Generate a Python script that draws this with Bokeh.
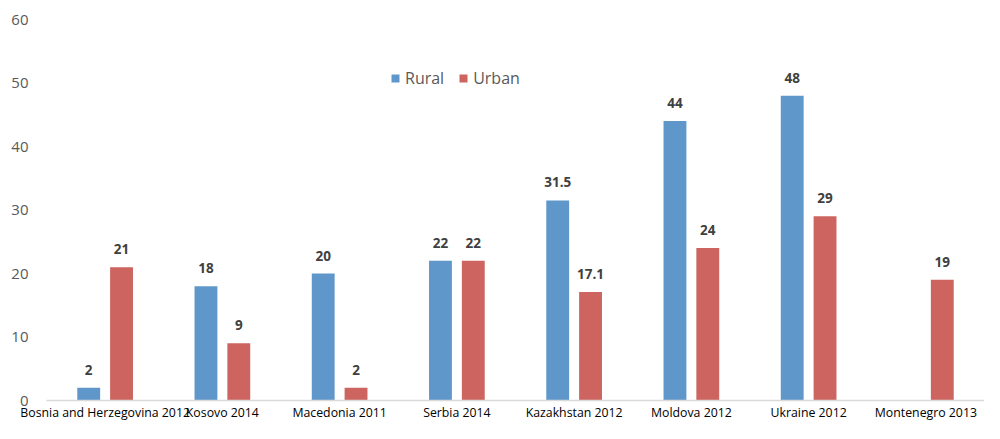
import numpy as np
from bokeh.plotting import figure
from bokeh.models import ColumnDataSource, FactorRange, Range1d, Legend, LegendItem, LabelSet
from bokeh.core.properties import value
from bokeh.embed import file_html
from bokeh.resources import INLINE
from bokeh.transform import dodge

countries = ["Bosnia and Herzegovina 2012", "Kosovo 2014", "Macedonia 2011", "Serbia 2014",
             "Kazakhstan 2012", "Moldova 2012", "Ukraine 2012", "Montenegro 2013"]
rural = [2, 18, 20, 22, 31.5, 44, 48, float("nan")]
urban = [21, 9, 2, 22, 17.1, 24, 29, 19]
y_ticks = [0, 10, 20, 30, 40, 50, 60]

def fmt(v):
    if v != v:
        return ""
    return str(int(v)) if float(v).is_integer() else str(v)

src = ColumnDataSource(dict(
    c=countries, rural=rural, urban=urban,
    rural_lbl=[fmt(v) for v in rural], urban_lbl=[fmt(v) for v in urban],
    rural_y=[0 if v != v else v for v in rural],
))

FONT = "Open Sans"
BLUE = "#6097CA"
RED = "#CD6460"

p = figure(x_range=FactorRange(*countries, range_padding=0), y_range=Range1d(0, 60),
           width=984, height=423, output_backend="svg", toolbar_location=None,
           min_border_left=46, min_border_right=0, min_border_top=19, min_border_bottom=0)
p.outline_line_color = None
p.xgrid.grid_line_color = None
p.ygrid.grid_line_color = None

rb = p.vbar(x=dodge("c", -0.14, range=p.x_range), top="rural", width=0.195, source=src,
            fill_color=BLUE, line_color=None)
ub = p.vbar(x=dodge("c", 0.14, range=p.x_range), top="urban", width=0.195, source=src,
            fill_color=RED, line_color=None)

for col, ycol, off in (("rural_lbl", "rural_y", -0.14), ("urban_lbl", "urban", 0.14)):
    p.add_layout(LabelSet(x=dodge("c", off, range=p.x_range), y=ycol, text=col, source=src,
                          text_align="center", text_baseline="bottom", y_offset=13,
                          text_font=value(FONT), text_font_size=value("13.5px"),
                          text_font_style=value("bold"), text_color=value("#404040")))

p.yaxis.ticker = y_ticks
p.yaxis.axis_line_color = None
p.yaxis.major_tick_line_color = None
p.yaxis.minor_tick_line_color = None
p.yaxis.major_tick_out = 0
p.yaxis.major_tick_in = 0
p.yaxis.minor_tick_out = 0
p.yaxis.major_label_text_font = FONT
p.yaxis.major_label_text_font_size = "15px"
p.yaxis.major_label_text_color = "#595959"
p.yaxis.major_label_standoff = 18

p.xaxis.axis_line_color = "#D9D9D9"
p.xaxis.axis_line_width = 1.5
p.xaxis.major_tick_line_color = None
p.xaxis.minor_tick_line_color = None
p.xaxis.major_tick_out = 0
p.xaxis.major_tick_in = 0
p.xaxis.minor_tick_out = 0
p.xaxis.major_label_text_font = FONT
p.xaxis.major_label_text_font_size = "12.3px"
p.xaxis.major_label_text_color = "#000000"
p.xaxis.major_label_standoff = 3

legend = Legend(items=[LegendItem(label="Rural", renderers=[rb]),
                       LegendItem(label="Urban", renderers=[ub])],
                orientation="horizontal", location=(344, 311),
                border_line_color=None, background_fill_alpha=0,
                label_text_font=FONT, label_text_font_size="16px", label_text_color="#595959",
                glyph_width=10, glyph_height=10, label_standoff=5, spacing=14,
                padding=0, margin=0)
p.add_layout(legend)

open("out.html", "w").write(file_html(p, INLINE))
